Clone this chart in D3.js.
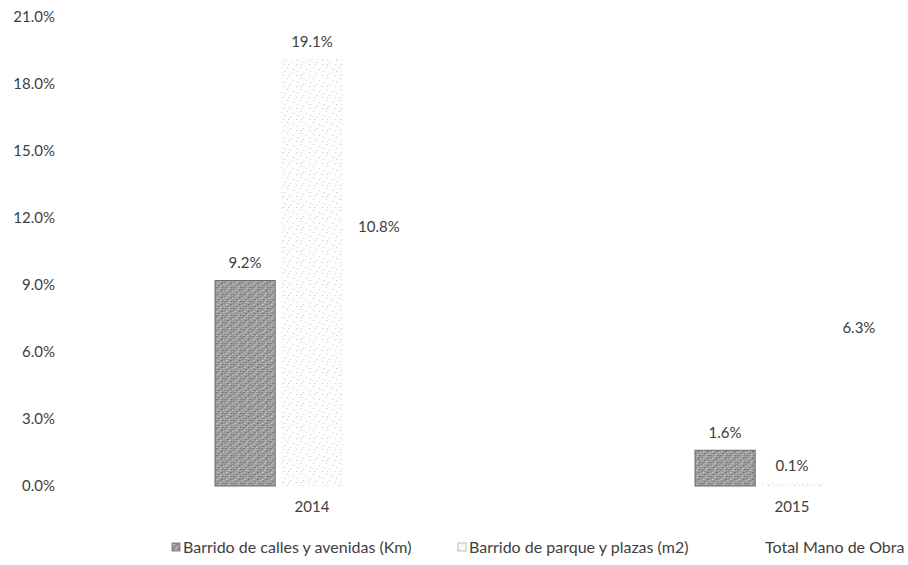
<!DOCTYPE html>
<html>
<head>
<meta charset="utf-8">
<script src="https://cdn.jsdelivr.net/npm/d3@7"></script>
<style>
  body { margin: 0; background: #fff; }
  text { font-family: Lato, "Open Sans", sans-serif; fill: #404040; }
</style>
</head>
<body>
<div id="chart"></div>
<script>
const years = ["2014", "2015"];
const seriesNames = ["Barrido de calles y avenidas (Km)", "Barrido de parque y plazas (m2)", "Total Mano de Obra"];
const calles = [9.2, 1.6];
const parques = [19.1, 0.1];
const totalMO = [10.8, 6.3];
const yTicks = [0, 3, 6, 9, 12, 15, 18, 21];

const values = [calles, parques, totalMO];
const rows = [];
years.forEach((yr, i) => {
    seriesNames.forEach((s, j) => rows.push({ year: yr, series: s, value: values[j][i] }));
});

const svg = d3.select("#chart")
    .append("svg")
    .attr("width", 908)
    .attr("height", 565);

// textures for the scanned-looking bars
const defs = svg.append("defs");
const dark = defs.append("pattern")
    .attr("id", "darkTex")
    .attr("patternUnits", "userSpaceOnUse")
    .attr("width", 9).attr("height", 7);
dark.append("rect").attr("width", 9).attr("height", 7).attr("fill", "#9c9c9c");
[[0,0,"#6e6e6e"],[3,1,"#c4c4c4"],[6,0,"#7a7a7a"],[1,3,"#cfcfcf"],[5,3,"#6a6a6a"],
 [7,4,"#bdbdbd"],[2,5,"#777"],[4,6,"#c8c8c8"],[8,2,"#858585"],[0,6,"#b5b5b5"]]
    .forEach(p => dark.append("rect").attr("x", p[0]).attr("y", p[1])
        .attr("width", 1.5).attr("height", 1).attr("fill", p[2]));

const light = defs.append("pattern")
    .attr("id", "lightTex")
    .attr("patternUnits", "userSpaceOnUse")
    .attr("width", 13).attr("height", 11);
light.append("rect").attr("width", 13).attr("height", 11).attr("fill", "#fdfdfd");
[[1,1],[7,3],[4,7],[10,9],[11,5],[2,9]]
    .forEach(p => light.append("rect").attr("x", p[0]).attr("y", p[1])
        .attr("width", 1.2).attr("height", 1).attr("fill", "#cfcfcf"));

const fills = {};
fills[seriesNames[0]] = "url(#darkTex)";
fills[seriesNames[1]] = "url(#lightTex)";
fills[seriesNames[2]] = "#ffffff";
const strokes = {};
strokes[seriesNames[0]] = "#6a6a6a";
strokes[seriesNames[1]] = "#dcdcdc";
strokes[seriesNames[2]] = "none";

const x0 = d3.scaleBand()
    .domain(years)
    .range([72, 1032]);

const x1 = d3.scaleBand()
    .domain(seriesNames)
    .range([-97, 97])
    .paddingInner(0.1);

const y = d3.scaleLinear()
    .domain([0, 21])
    .range([486, 17]);

const yAxis = svg.append("g")
    .attr("transform", "translate(55,0)")
    .call(d3.axisLeft(y).tickValues(yTicks).tickSize(0).tickPadding(0)
        .tickFormat(d => d3.format(".1f")(d) + "%"));
yAxis.select(".domain").remove();
yAxis.selectAll("text")
    .attr("font-size", 15)
    .attr("dy", "0.32em")
    .style("fill", "#404040");

const xAxis = svg.append("g")
    .attr("transform", "translate(0,486)")
    .call(d3.axisBottom(x0).tickSize(0).tickPadding(15));
xAxis.select(".domain").remove();
xAxis.selectAll("text")
    .attr("font-size", 15)
    .style("fill", "#404040");

const bx = d => x0(d.year) + x0.bandwidth() / 2 + x1(d.series);

svg.append("g")
    .selectAll("rect")
    .data(rows)
    .join("rect")
    .attr("x", bx)
    .attr("y", d => y(d.value))
    .attr("width", x1.bandwidth())
    .attr("height", d => y(0) - y(d.value))
    .attr("fill", d => fills[d.series])
    .attr("stroke", d => strokes[d.series])
    .attr("stroke-width", 1)
    .attr("stroke-dasharray", d => d.series === seriesNames[1] ? "1,4" : null);

svg.append("g")
    .selectAll("text")
    .data(rows)
    .join("text")
    .attr("x", d => bx(d) + x1.bandwidth() / 2)
    .attr("y", d => y(d.value) - 18)
    .attr("dy", "0.35em")
    .attr("text-anchor", "middle")
    .attr("font-size", 15)
    .text(d => d.value.toFixed(1) + "%");

// legend
const legendX = [172, 458, 754];
const legend = svg.append("g")
    .selectAll("g")
    .data(seriesNames)
    .join("g")
    .attr("transform", (d, i) => `translate(${legendX[i]},548)`);
legend.append("rect")
    .attr("x", 0).attr("y", -5)
    .attr("width", 8).attr("height", 8)
    .attr("fill", d => fills[d])
    .attr("stroke", d => d === seriesNames[0] ? "#707070" : (d === seriesNames[1] ? "#aaa" : "none"))
    .attr("stroke-width", 0.8);
legend.append("text")
    .attr("x", 11)
    .attr("dy", "0.32em")
    .attr("font-size", 16)
    .text(d => d);
</script>
</body>
</html>
